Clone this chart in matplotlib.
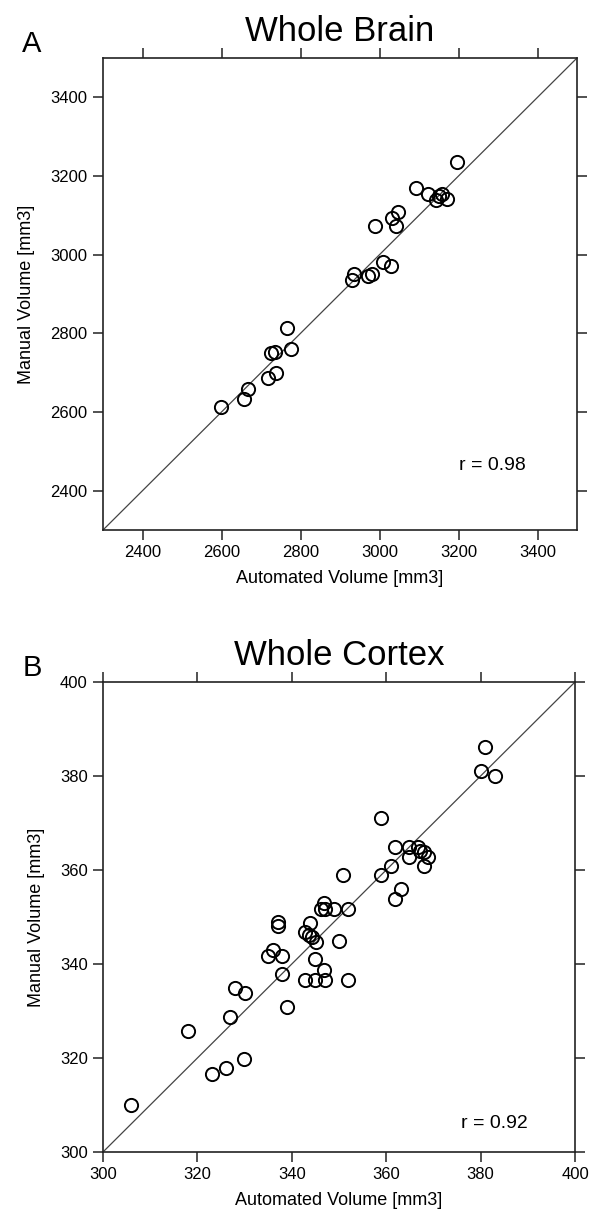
import matplotlib
matplotlib.use("Agg")
import matplotlib.pyplot as plt

plt.rcParams['font.family'] = ['Liberation Sans', 'DejaVu Sans']

# Panel A: Whole Brain
brain_auto = [2598, 2658, 2667, 2717, 2739, 2725, 2735, 2765, 2775,
              2931, 2936, 2970, 2982, 3008, 3029, 2989, 3031, 3046, 3041,
              3092, 3122, 3143, 3150, 3157, 3172, 3196]
brain_manual = [2612, 2633, 2659, 2686, 2700, 2749, 2753, 2814, 2760,
                2935, 2952, 2946, 2951, 2981, 2970, 3073, 3094, 3108, 3073,
                3170, 3153, 3139, 3150, 3155, 3141, 3236]

# Panel B: Whole Cortex
cortex_auto = [306, 323.0, 326.1, 329.9, 318.1, 326.9, 338.9, 328.0, 330.1,
               338.0, 336.1, 335.0, 338.0, 342.9, 344.9, 347.0, 352.0, 346.9,
               344.9, 337.0, 337.0, 343.9, 342.9, 343.7, 344.3, 345.1, 350.0,
               346.9, 346.2, 347.0, 348.9, 352.0, 350.9, 358.8, 361.0, 368.0,
               361.9, 363.1, 358.8, 361.9, 364.9, 366.8, 367.2, 368.1, 368.9,
               364.9, 381.0, 380.0, 383.0]
cortex_manual = [310, 316.7, 317.8, 319.8, 325.8, 328.7, 330.9, 334.8, 333.8,
                 337.9, 343.0, 341.8, 341.8, 336.7, 336.7, 336.7, 336.7, 338.7,
                 341.0, 349.0, 348.1, 348.8, 346.9, 346.2, 345.7, 344.6, 344.9,
                 353.0, 351.8, 351.8, 351.8, 351.8, 358.9, 358.9, 360.9, 360.9,
                 353.8, 356.0, 371.0, 364.8, 365.0, 365.0, 364.0, 363.8, 362.8,
                 362.8, 386.1, 381.1, 380.0]

panels = [
    dict(x=brain_auto, y=brain_manual, lim=(2300, 3500),
         ticks=[2400, 2600, 2800, 3000, 3200, 3400], title="Whole Brain",
         letter="A", r="r = 0.98", rpos=(3285, 2465),
         rect=[103/592, 1 - 530/1219, 474/592, 472/1219]),
    dict(x=cortex_auto, y=cortex_manual, lim=(300, 400),
         ticks=[300, 320, 340, 360, 380, 400], title="Whole Cortex",
         letter="B", r="r = 0.92", rpos=(383, 306),
         rect=[103/592, 1 - 1152/1219, 472/592, 470/1219]),
]

fig = plt.figure(figsize=(5.92, 12.19), dpi=100)
col = '#222222'
for p in panels:
    ax = fig.add_axes(p['rect'])
    lo, hi = p['lim']
    ax.plot([lo, hi], [lo, hi], color='#444444', lw=0.9, zorder=1)
    ax.plot(p['x'], p['y'], linestyle='none', marker='o', markersize=9.5,
            markerfacecolor='none', markeredgecolor='black', markeredgewidth=1.4,
            zorder=2)
    ax.set_xlim(lo, hi)
    ax.set_ylim(lo, hi)
    ax.set_xticks(p['ticks'])
    ax.set_yticks(p['ticks'])
    ax.tick_params(direction='out', length=7, width=1.1, color=col,
                   labelsize=12, top=True, right=True, labeltop=False,
                   labelright=False, pad=4)
    for s in ax.spines.values():
        s.set_linewidth(1.2)
        s.set_color(col)
    ax.set_xlabel("Automated Volume [mm3]", fontsize=13, labelpad=7)
    ax.set_ylabel("Manual Volume [mm3]", fontsize=13, labelpad=11)
    ax.set_title(p['title'], fontsize=25, pad=12)
    ax.text(p['rpos'][0], p['rpos'][1], p['r'], fontsize=14,
            ha='center', va='center')
    ax.text(-0.17, 1.03, p['letter'], transform=ax.transAxes, fontsize=21,
            ha='left', va='center')

fig.savefig("out.png", dpi=100)
